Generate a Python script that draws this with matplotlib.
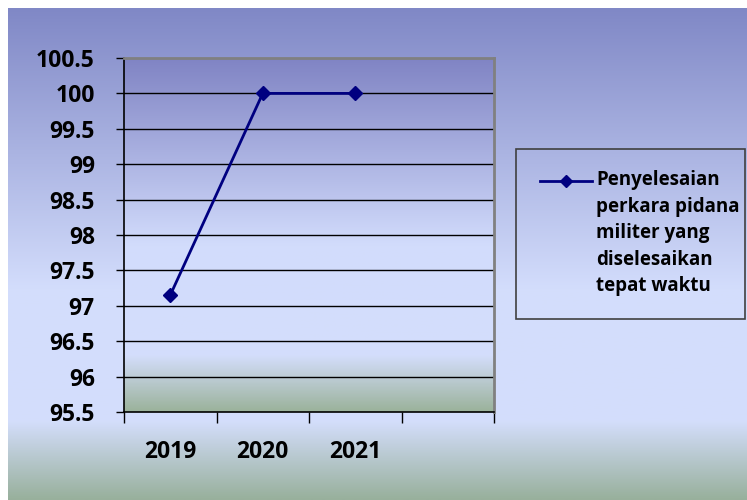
import numpy as np
import matplotlib
matplotlib.use("Agg")
import matplotlib.pyplot as plt
from matplotlib.colors import LinearSegmentedColormap
from matplotlib.lines import Line2D
from matplotlib.patches import Rectangle

# Data
years = ["2019", "2020", "2021"]
values = [97.15, 100.0, 100.0]
series_label = "Penyelesaian\nperkara pidana\nmiliter yang\ndiselesaikan\ntepat waktu"
n_slots = 4
y_min, y_max, y_step = 95.5, 100.5, 0.5

plt.rcParams["font.family"] = ["Open Sans", "DejaVu Sans"]
plt.rcParams["font.weight"] = "bold"

W, H = 747, 500
fig = plt.figure(figsize=(W / 100, H / 100), dpi=100)
fig.patch.set_facecolor("white")


def gradient_cmap(stops):
    return LinearSegmentedColormap.from_list(
        "g", [(p, tuple(c / 255 for c in col)) for p, col in stops])


# Chart background (purple-blue to pale blue to grey-green)
bg_cmap = gradient_cmap([
    (0.0, (128, 136, 198)),
    (0.57, (211, 221, 252)),
    (0.84, (212, 222, 252)),
    (1.0, (152, 176, 156)),
])
bg = fig.add_axes([8 / W, 0, (W - 8) / W, (H - 8) / H], zorder=-5)
bg.imshow(np.linspace(0, 1, 256).reshape(-1, 1), cmap=bg_cmap,
          aspect="auto", extent=(0, 1, 0, 1))
bg.set_axis_off()

# Plot area
left, right, top, bottom = 124, 494, 58, 412
ax = fig.add_axes([left / W, 1 - bottom / H, (right - left) / W, (bottom - top) / H])
ax.patch.set_visible(False)

pa_cmap = gradient_cmap([
    (0.0, (128, 132, 196)),
    (0.53, (210, 220, 252)),
    (0.84, (212, 222, 252)),
    (1.0, (155, 178, 155)),
])
ax.imshow(np.linspace(0, 1, 256).reshape(-1, 1), cmap=pa_cmap, aspect="auto",
          extent=(0, n_slots, y_min, y_max), zorder=0)

ax.set_xlim(0, n_slots)
ax.set_ylim(y_min, y_max)

yticks = np.arange(y_min, y_max + y_step / 2, y_step)
ax.set_yticks(yticks)
ax.set_yticklabels([f"{v:g}" for v in yticks])
for v in yticks[1:-1]:
    ax.axhline(v, color="black", lw=1.0, zorder=1)

xpos = np.arange(len(years)) + 0.5
ax.set_xticks(np.arange(n_slots + 1))
ax.set_xticklabels([])
ax.set_xticks(xpos, minor=True)
ax.set_xticklabels(years, minor=True)

ax.tick_params(axis="y", direction="out", length=6, width=1, colors="black",
               labelsize=16.5, pad=15)
ax.tick_params(axis="x", which="major", direction="out", length=8, width=1)
ax.tick_params(axis="x", which="minor", length=0, labelsize=16.5, pad=20)
for lab in ax.get_xticklabels(minor=True) + ax.get_yticklabels():
    lab.set_fontweight("bold")

for side in ("left", "bottom"):
    ax.spines[side].set_color("black")
    ax.spines[side].set_linewidth(1.2)
for side in ("top", "right"):
    ax.spines[side].set_color("#808080")
    ax.spines[side].set_linewidth(2.0)

line_color = "#000080"
ax.plot(xpos, values, color=line_color, lw=2, marker="D", markersize=7.5,
        zorder=3, clip_on=False)

# Legend box
lx0, ly0, lx1, ly1 = 516, 149, 745, 319
fig.add_artist(Rectangle((lx0 / W, 1 - ly1 / H), (lx1 - lx0) / W, (ly1 - ly0) / H,
                         transform=fig.transFigure, facecolor="none",
                         edgecolor="#404040", lw=1.2))
hy = 1 - 181 / H
fig.add_artist(Line2D([540 / W, 592 / W], [hy, hy], transform=fig.transFigure,
                      color=line_color, lw=2))
fig.add_artist(Line2D([566 / W], [hy], transform=fig.transFigure,
                      color=line_color, marker="D", markersize=6.5))
fig.text(596 / W, 1 - 170 / H, series_label, ha="left", va="top", fontsize=13.5,
         fontweight="bold", linespacing=1.44, transform=fig.transFigure)

fig.savefig("out.png", dpi=100)
